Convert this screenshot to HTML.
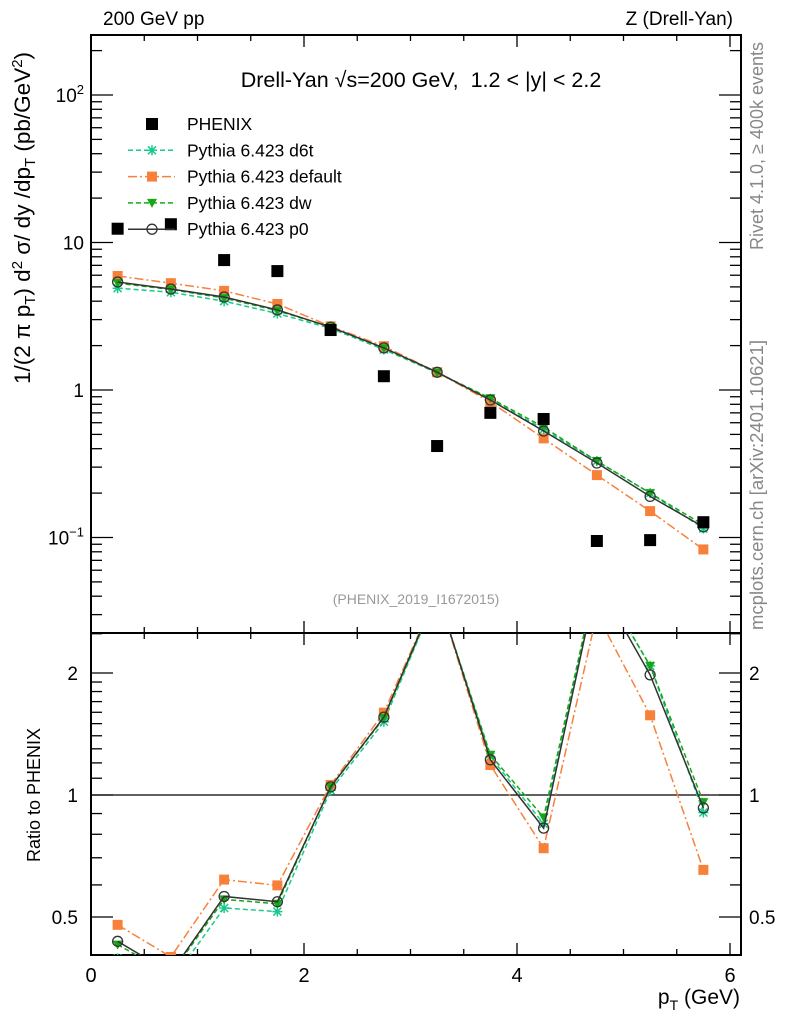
<!DOCTYPE html>
<html><head><meta charset="utf-8"><style>
body{margin:0;background:#fff;}
svg{display:block;font-family:"Liberation Sans",sans-serif;}
</style></head><body>
<svg id="chart" width="786" height="1024" viewBox="0 0 786 1024" xmlns="http://www.w3.org/2000/svg">
<text x="103" y="25" font-size="19">200 GeV pp</text>
<text x="733" y="25" font-size="19" text-anchor="end">Z (Drell-Yan)</text>
<text x="421" y="87" font-size="21.5" text-anchor="middle" xml:space="preserve">Drell-Yan √s=200 GeV,  1.2 &lt; |y| &lt; 2.2</text>
<text transform="translate(30,218) rotate(-90)" font-size="22.5" text-anchor="middle">1/(2 π p<tspan font-size="15" dy="5">T</tspan><tspan dy="-5">) d</tspan><tspan font-size="15" dy="-8">2</tspan><tspan dy="8"> σ/ dy /dp</tspan><tspan font-size="15" dy="5">T</tspan><tspan dy="-5"> (pb/GeV</tspan><tspan font-size="15" dy="-8">2</tspan><tspan dy="8">)</tspan></text>
<text transform="translate(40,795) rotate(-90)" font-size="18" text-anchor="middle">Ratio to PHENIX</text>
<text transform="translate(763,250) rotate(-90)" font-size="18" fill="#888">Rivet 4.1.0, ≥ 400k events</text>
<text transform="translate(763,630) rotate(-90)" font-size="18.5" fill="#888">mcplots.cern.ch [arXiv:2401.10621]</text>
<text x="416" y="604" font-size="14" fill="#999" text-anchor="middle">(PHENIX_2019_I1672015)</text>
<text x="740" y="1004" font-size="21" text-anchor="end">p<tspan font-size="14" dy="6">T</tspan><tspan dy="-6"> (GeV)</tspan></text>
<g id="g-main"></g>
<g id="g-ratio"></g>
<g id="g-legend"></g>
</svg>
<script>
const pT=[0.25,0.75,1.25,1.75,2.25,2.75,3.25,3.75,4.25,4.75,5.25,5.75];
const phenix=[12.4,13.3,7.6,6.4,2.55,1.24,0.417,0.70,0.636,0.0947,0.096,0.127];
const d6t=[4.9,4.6,4.0,3.3,2.62,1.88,1.31,0.87,0.54,0.33,0.20,0.115];
const deflt=[5.93,5.3,4.7,3.83,2.7,1.98,1.32,0.83,0.47,0.265,0.151,0.083];
const dw=[5.3,4.8,4.2,3.45,2.67,1.92,1.31,0.88,0.56,0.33,0.20,0.122];
const p0=[5.4,4.84,4.27,3.49,2.67,1.93,1.32,0.855,0.527,0.32,0.19,0.118];
const xTicks=[0,2,4,6];
const yTicksMain=[0.1,1,10,100];
const yTickLabels=["10^-1","1","10","10^2"];
const ratioTicks=[0.5,1,2];

const NS="http://www.w3.org/2000/svg";
const L=91,R=741,T=35,MB=633,RB=955;
const X=v=>L+v*106.5;
const YM=v=>390-Math.log10(v)*147.5;
const YR=v=>795-Math.log2(v)*122;
function el(tag,at,parent){const e=document.createElementNS(NS,tag);for(const k in at)e.setAttribute(k,at[k]);parent.appendChild(e);return e;}
const gm=document.getElementById('g-main'),gr=document.getElementById('g-ratio'),gl=document.getElementById('g-legend');
const defs=el('defs',{},document.getElementById('chart'));
const c1=el('clipPath',{id:'cm'},defs);el('rect',{x:L,y:T,width:R-L,height:MB-T},c1);
const c2=el('clipPath',{id:'cr'},defs);el('rect',{x:L,y:MB,width:R-L,height:RB-MB},c2);

let f=el('rect',{x:L,y:T,width:R-L,height:MB-T,fill:'none',stroke:'#000','stroke-width':2},gm);

f=el('rect',{x:L,y:MB,width:R-L,height:RB-MB,fill:'none',stroke:'#000','stroke-width':2},gr);

for(let v=0;v<=6.01;v+=0.5){const maj=Math.abs(v-Math.round(v/2)*2)<0.01;const s=maj?12:6;
 for(const [a,b] of [[T,MB],[MB,RB]]){el('line',{x1:X(v),x2:X(v),y1:a,y2:a+s,stroke:'#000','stroke-width':1.3},gm);el('line',{x1:X(v),x2:X(v),y1:b,y2:b-s,stroke:'#000','stroke-width':1.3},gm);}}
xTicks.forEach(v=>{const t=el('text',{x:X(v),y:982,'font-size':20,'text-anchor':'middle'},gr);t.textContent=v;
 });
for(let d=-2;d<=2;d++)for(let m=1;m<10;m++){const v=m*Math.pow(10,d);const y=YM(v);if(y<T||y>MB)continue;const s=m==1?22:11;
 el('line',{x1:L,x2:L+s,y1:y,y2:y,stroke:'#000','stroke-width':1.3},gm);el('line',{x1:R,x2:R-s,y1:y,y2:y,stroke:'#000','stroke-width':1.3},gm);}
yTicksMain.forEach((v,i)=>{const lab=yTickLabels[i];const t=el('text',{x:84,y:YM(v)+7,'font-size':19,'text-anchor':'end'},gm);
 if(lab.includes('^')){const [b,e]=lab.split('^');t.textContent=b;const ts=el('tspan',{'font-size':13,dy:-8},t);ts.textContent=e.replace('-','−');}
 else t.textContent=lab;
 });
for(let v=0.4;v<=2.55;v+=(v<2-1e-9?0.1:0.5)){const y=YR(v);if(y<MB||y>RB)continue;
 const maj=ratioTicks.some(r=>Math.abs(r-v)<1e-6);const s=maj?22:11;
 el('line',{x1:L,x2:L+s,y1:y,y2:y,stroke:'#000','stroke-width':1.3},gr);el('line',{x1:R,x2:R-s,y1:y,y2:y,stroke:'#000','stroke-width':1.3},gr);}
ratioTicks.forEach(v=>{const t=el('text',{x:78,y:YR(v)+7,'font-size':19,'text-anchor':'end'},gr);t.textContent=v;
 
 const t2=el('text',{x:749,y:YR(v)+7,'font-size':19},gr);t2.textContent=v;
 });
el('line',{x1:L,x2:R,y1:YR(1),y2:YR(1),stroke:'#000','stroke-width':1.3},gr);

const series=[
 {name:'d6t',data:d6t,color:'#19c98c',dash:'5,3',mk:'star'},
 {name:'default',data:deflt,color:'#f7813a',dash:'9,3,2,3',mk:'square'},
 {name:'dw',data:dw,color:'#16a814',dash:'5,3',mk:'tri'},
 {name:'p0',data:p0,color:'#333',dash:'',mk:'circle'}];
function marker(g,mk,x,y,c){
 if(mk=='square')return el('rect',{x:x-5,y:y-5,width:10,height:10,fill:c},g);
 if(mk=='tri')return el('path',{d:`M${x-5},${y-4}L${x+5},${y-4}L${x},${y+5}Z`,fill:c},g);
 if(mk=='circle')return el('circle',{cx:x,cy:y,r:5,fill:'none',stroke:c,'stroke-width':1.3},g);
 if(mk=='star')return el('path',{d:`M${x-5},${y}H${x+5}M${x},${y-5}V${y+5}M${x-4},${y-4}L${x+4},${y+4}M${x-4},${y+4}L${x+4},${y-4}`,stroke:c,'stroke-width':1.5},g);
 if(mk=='bsq')return el('rect',{x:x-6,y:y-6,width:12,height:12,fill:c},g);
}
series.forEach(s=>{
 const gs=el('g',{'clip-path':'url(#cm)'},gm);
 el('polyline',{points:pT.map((x,i)=>X(x)+','+YM(s.data[i])).join(' '),fill:'none',stroke:s.color,'stroke-width':1.5,'stroke-dasharray':s.dash},gs);
 pT.forEach((x,i)=>{const m=marker(gs,s.mk,X(x),YM(s.data[i]),s.color);});
 const gq=el('g',{'clip-path':'url(#cr)'},gr);
 const rs=s.data.map((v,i)=>v/phenix[i]);
 el('polyline',{points:pT.map((x,i)=>X(x)+','+YR(rs[i])).join(' '),fill:'none',stroke:s.color,'stroke-width':1.5,'stroke-dasharray':s.dash},gq);
 pT.forEach((x,i)=>{const m=marker(gq,s.mk,X(x),YR(rs[i]),s.color);});
});
const gp=el('g',{'clip-path':'url(#cm)'},gm);
pT.forEach((x,i)=>{const m=marker(gp,'bsq',X(x),YM(phenix[i]),'#000');});

const leg=[['PHENIX','#000','','bsq'],['Pythia 6.423 d6t','#19c98c','5,3','star'],['Pythia 6.423 default','#f7813a','9,3,2,3','square'],['Pythia 6.423 dw','#16a814','5,3','tri'],['Pythia 6.423 p0','#333','','circle']];
leg.forEach((e,i)=>{const y=124+i*26.3;const g=el('g',{},gl);
 
 if(i>0)el('line',{x1:128,x2:175,y1:y,y2:y,stroke:e[1],'stroke-width':1.5,'stroke-dasharray':e[2]},g);
 marker(g,e[3],152,y,e[1]);
 const t=el('text',{x:187,y:y+6,'font-size':17.5},g);t.textContent=e[0];});
</script>
</body></html>
